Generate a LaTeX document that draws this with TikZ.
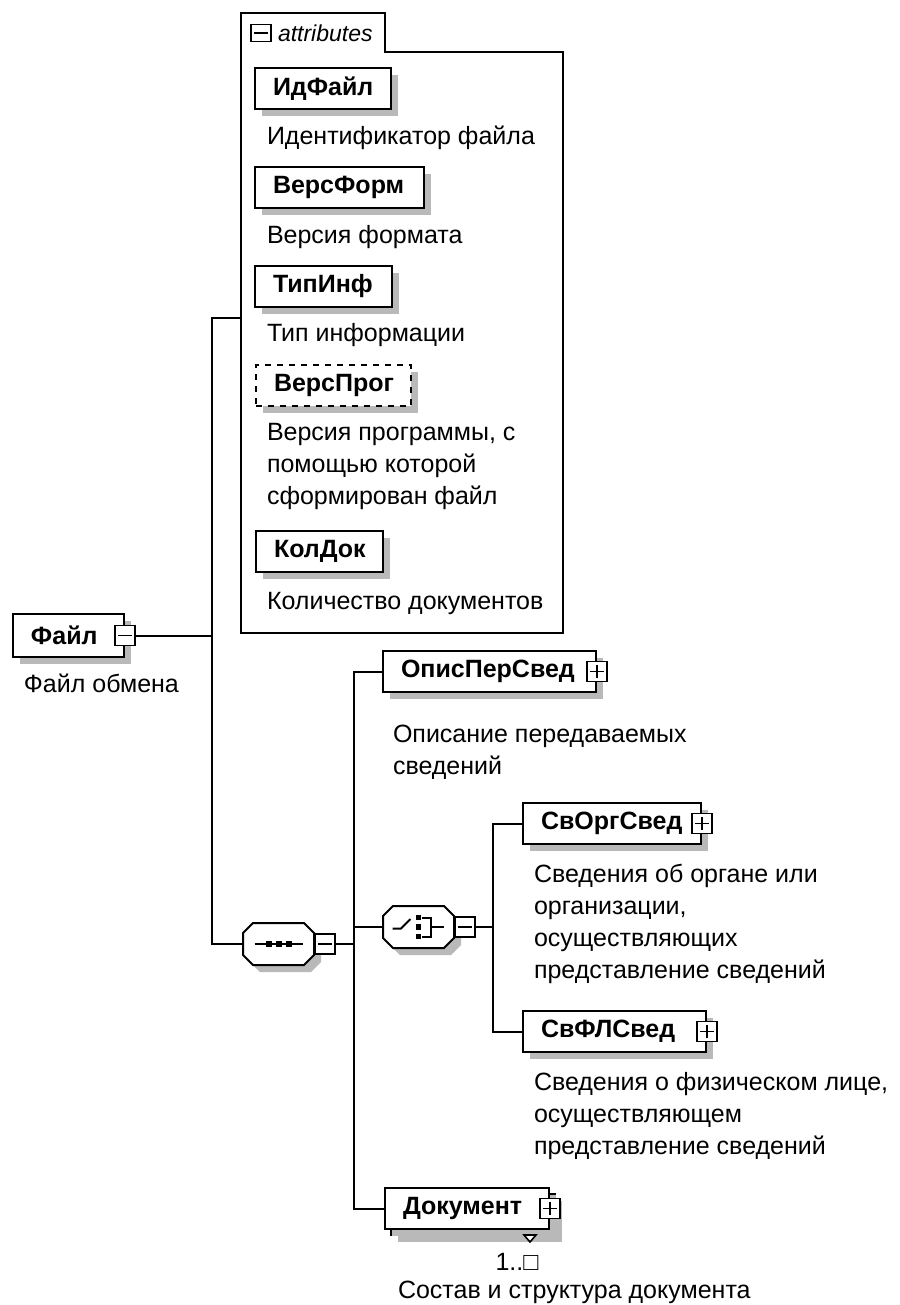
\documentclass[tikz,border=0pt]{standalone}
\usepackage{fontspec}
\setmainfont{Liberation Sans}
\usetikzlibrary{shadows}
\def\Minus#1{\draw[line width=0.8pt] ([xshift=2pt]#1.west) -- ([xshift=-2pt]#1.east);}
\def\Plus#1{\Minus{#1}\draw[line width=0.8pt] ([yshift=-2pt]#1.north) -- ([yshift=2pt]#1.south);}
\def\Octo#1{\fill[gray!55,transform canvas={shift={(3.5pt,-3.5pt)}}] ([xshift=5pt]#1.north west) -- ([xshift=-5pt]#1.north east) -- ([yshift=-5pt]#1.north east) -- ([yshift=5pt]#1.south east) -- ([xshift=-5pt]#1.south east) -- ([xshift=5pt]#1.south west) -- ([yshift=5pt]#1.south west) -- ([yshift=-5pt]#1.north west) -- cycle;
  \draw[fill=white] ([xshift=5pt]#1.north west) -- ([xshift=-5pt]#1.north east) -- ([yshift=-5pt]#1.north east) -- ([yshift=5pt]#1.south east) -- ([xshift=-5pt]#1.south east) -- ([xshift=5pt]#1.south west) -- ([yshift=5pt]#1.south west) -- ([yshift=-5pt]#1.north west) -- cycle;}
\begin{document}
\begin{tikzpicture}[x=0.5pt,y=-0.5pt,line width=1pt,
  font=\fontsize{12.5}{16}\selectfont,
  elem/.style={draw,fill=white,anchor=north west,inner xsep=9pt,inner ysep=0pt,
    minimum height=20.5pt,align=left,text width=#1,font=\fontsize{12.5}{16}\selectfont\bfseries,
    drop shadow={shadow xshift=3.5pt,shadow yshift=-3.5pt,fill=gray!55,opacity=1}},
  desc/.style={anchor=north west,inner sep=0pt,align=left},
  btn/.style={draw,fill=white,line width=0.8pt,minimum size=10pt,inner sep=0pt},
  grp/.style={anchor=north west,minimum width=34.5pt,minimum height=20pt,inner sep=0pt}]
\useasboundingbox (0,0) rectangle (899,1305);

% root element
\node[elem=37.5pt,minimum height=21.5pt] (fajl) at (12,613) {Файл};
\node[btn] (fajlm) at (fajl.east) {}; \Minus{fajlm}
\node[desc] (fajldesc) at (23,673) {Файл обмена};

% attributes
\draw[fill=white] (241,13) -- (385,13) -- (385,52) -- (563,52) -- (563,633) -- (241,633) -- cycle;
\node[btn,minimum width=10pt,minimum height=8.5pt] (attrm) at (261,33) {}; \Minus{attrm}
\node[anchor=west,inner sep=0pt,font=\fontsize{11.5}{14}\selectfont\itshape] (attrlbl) at (277,33) {attributes};
\coordinate (attrin) at (241,318);

\node[elem=50pt] (idf) at (254,67) {ИдФайл};
\node[desc] (idfdesc) at (266,125) {Идентификатор файла};
\node[elem=66.5pt] (vform) at (254,166) {ВерсФорм};
\node[desc] (vformdesc) at (266,224) {Версия формата};
\node[elem=50.5pt] (tipinf) at (254,265) {ТипИнф};
\node[desc] (tipinfdesc) at (266,322) {Тип информации};
\node[elem=59.5pt,dashed] (vprog) at (255,364) {ВерсПрог};
\node[desc] (vprogdesc) at (266,422) {Версия программы, с\\помощью которой\\сформирован файл};
\node[elem=45.5pt] (koldok) at (255,530) {КолДок};
\node[desc] (koldokdesc) at (266,591) {Количество документов};

% sequence
\node[grp] (seq) at (243,923) {}; \Octo{seq}
\draw ([xshift=-12pt]seq.center) -- ([xshift=12pt]seq.center);
\foreach \d in {-5,0,5} \fill ([xshift=\d pt]seq.center) +(-1.5pt,-1.5pt) rectangle +(1.5pt,1.5pt);
\node[btn,anchor=west] (seqm) at (seq.east) {}; \Minus{seqm}

\coordinate (tr) at (212,318);
\draw (attrin) -- (tr) |- (seq.west);
\draw (fajlm.east) -- (fajlm.east -| tr);

% children of sequence
\node[elem=88.5pt] (opis) at (382,650) {ОписПерСвед};
\node[btn] (opisp) at (opis.east) {}; \Plus{opisp}
\node[desc] (opisdesc) at (392,724) {Описание передаваемых\\сведений};

\node[grp] (ch) at (383,906) {}; \Octo{ch}
\begin{scope}[shift={(ch.center)}]
  \draw (-13pt,-0.75pt) -- (-8.75pt,-0.75pt) -- (-4pt,4pt);
  \foreach \d in {-4.75,0,4.75} \fill (-1.4pt,\d pt-1.4pt) rectangle (1.4pt,\d pt+1.4pt);
  \draw (1.5pt,4.75pt) -- (6.25pt,4.75pt) -- (6.25pt,-4.75pt) -- (1.5pt,-4.75pt);
  \draw (6.25pt,0pt) -- (12.5pt,0pt);
\end{scope}
\node[btn,anchor=west] (chm) at (ch.east) {}; \Minus{chm}

\node[elem=64pt] (dokback) at (390,1193) {};
\node[elem=64pt] (dok) at (384,1187) {Документ};
\node[btn] (dokp) at (dok.east) {}; \Plus{dokp}
\draw[fill=white,line width=0.8pt] (524,1235) -- (536,1235) -- (530,1242) -- cycle;
\node[inner sep=0pt] (dokmult) at (517,1262) {1..□};
\node[desc] (dokdesc) at (397,1280) {Состав и структура документа};

\coordinate (br) at (354,0);
\draw (seqm.east) -- (seqm.east -| br);
\draw (opis.west) -- (opis.west -| br) |- (dok.west);
\draw (ch.west) -- (ch.west -| br);

% choice
\node[elem=71pt] (svorg) at (522,802) {СвОргСвед};
\node[btn] (svorgp) at (svorg.east) {}; \Plus{svorgp}
\node[desc] (svorgdesc) at (533,863) {Сведения об органе или\\организации,\\осуществляющих\\представление сведений};
\node[elem=73.5pt] (svfl) at (522,1010) {СвФЛСвед};
\node[btn] (svflp) at (svfl.east) {}; \Plus{svflp}
\node[desc] (svfldesc) at (533,1071) {Сведения о физическом лице,\\осуществляющем\\представление сведений};

\coordinate (sw) at (493,0);
\draw (chm.east) -- (chm.east -| sw);
\draw (svorg.west) -- (svorg.west -| sw) |- (svfl.west);
\end{tikzpicture}
\end{document}
